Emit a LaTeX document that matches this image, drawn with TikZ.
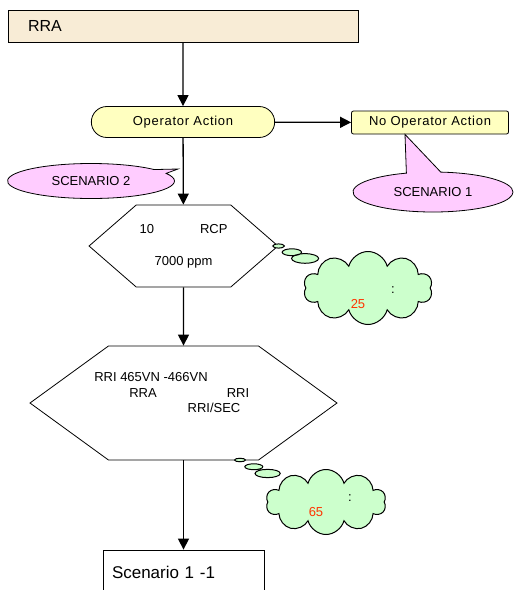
\documentclass[tikz,border=0pt]{standalone}
\usepackage{fontspec}
\setmainfont{Liberation Sans}
\newfontfamily\spacedfont{Liberation Sans}[LetterSpace=5.5]
\usetikzlibrary{calc}
\usetikzlibrary{shapes.geometric,shapes.misc,shapes.symbols,shapes.callouts}
\usetikzlibrary{arrows.meta,arrows}
\usetikzlibrary{positioning}
\definecolor{paper}{RGB}{248,236,214}
\definecolor{pale}{RGB}{255,255,192}
\definecolor{notepink}{RGB}{255,204,255}
\definecolor{mint}{RGB}{204,255,204}
\definecolor{numred}{RGB}{255,51,0}
\tikzset{
  titlebox/.style={rectangle, draw, fill=paper, minimum width=350pt, minimum height=32pt, text width=310pt, inner xsep=20pt, align=left, font=\fontsize{16}{19}\selectfont},
  terminal/.style={rounded rectangle, draw, fill=pale, minimum width=190pt, minimum height=31pt, font=\spacedfont\fontsize{13}{15}\selectfont},
  action/.style={rectangle, draw, fill=pale, rounded corners=2pt, minimum width=157pt, minimum height=23pt, font=\spacedfont\fontsize{13}{15}\selectfont},
  hexbox/.style={signal, signal to=east and west, draw, fill=white, align=center},
  note/.style={ellipse callout, draw, fill=notepink},
  thought/.style={cloud callout, draw, fill=mint, cloud puffs=10, cloud ignores aspect, callout pointer segments=3, line width=1pt},
  arrow/.style={draw, -{Triangle[length=11pt, width=11pt]}, line width=1.3pt}
  }

\begin{document}
\begin{tikzpicture}[x=1pt, y=-1pt, line width=0.8pt, font=\fontsize{13}{15}\selectfont]
	\useasboundingbox (0,0) rectangle (515,590);

	% Nodes
	\node[titlebox] (rra) at (183,26) {RRA};
	\node[terminal] (opaction) at (183,122) {Operator Action};
	\node[action] (noaction) at (430,122.5) {No Operator Action};
	\node[hexbox, minimum width=187pt, minimum height=82pt, signal pointer angle=82] (hexa) at (183.5,246) {10\hspace{46pt}RCP\\[17pt]7000 ppm};
	\node[hexbox, minimum width=307pt, minimum height=114pt, signal pointer angle=72] (hexb) at (183.5,403) {};
	\node (rri) at (151,377) {RRI 465VN -466VN};
	\node (rra2) at (143,393) {RRA};
	\node (rri2) at (238,393) {RRI};
	\node (rrisec) at (214,408) {RRI/SEC};
	\node[rectangle, draw, minimum width=161pt, minimum height=44pt, text width=143pt, inner xsep=9pt, align=left, font=\fontsize{17}{20}\selectfont] (scen) at (183.5,572) {Scenario 1 -1};

	% Callouts
	\node[note, minimum width=160pt, minimum height=40pt, callout pointer arc=25, callout absolute pointer={($(noaction.south)+(-25,0)$)}] (scen1) at (433,192) {SCENARIO 1};
	\node[note, minimum width=167pt, minimum height=35pt, callout absolute pointer={(178,169)}] (scen2) at (91,181) {SCENARIO 2};
	\node[thought, minimum width=129pt, minimum height=73pt, callout pointer start size=.27 of callout, callout pointer end size=.09 of callout, callout absolute pointer={(hexa.east)}] (cloud1) at (368,288) {};
	\node (colon1) at (393,290) {:};
	\node[text=numred] (num25) at (358,304) {25};
	\coordinate (tip2) at (240,460);
	\node[thought, minimum width=120pt, minimum height=65pt, callout pointer start size=.27 of callout, callout pointer end size=.09 of callout, callout absolute pointer={(tip2)}] (cloud2) at (326,502) {};
	\node (colon2) at (350,498) {:};
	\node[text=numred] (num65) at (316,512) {65};

	% Arrows
	\draw [arrow] (rra) -- (opaction);
	\draw [arrow] (opaction) -- (noaction);
	\draw [arrow] (opaction) -- (hexa);
	\draw [arrow] (hexa) -- (hexb);
	\draw [arrow] (hexb) -- (scen);
\end{tikzpicture}
\end{document}
